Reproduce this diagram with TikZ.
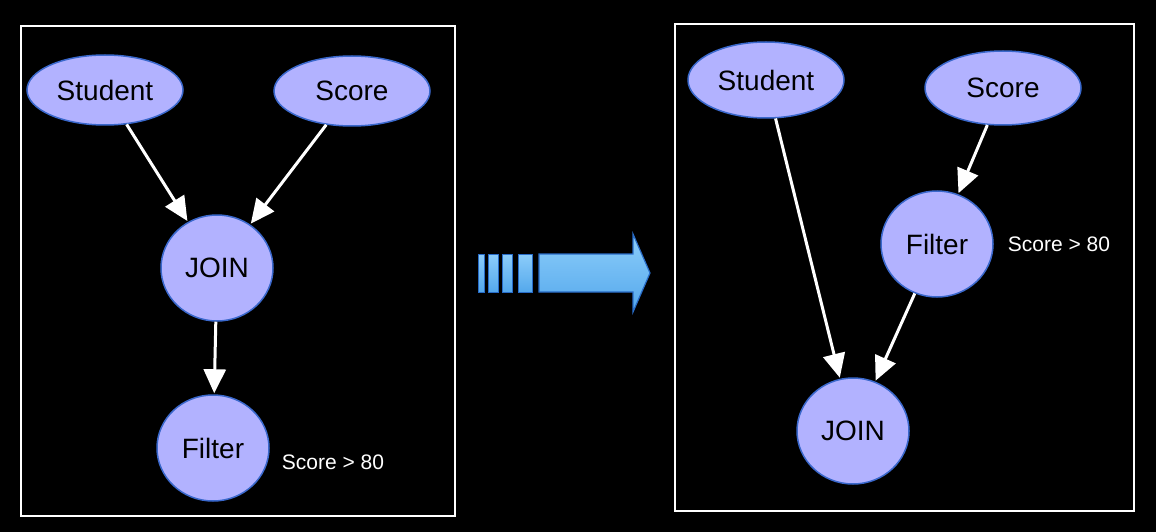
\documentclass[tikz,border=0pt]{standalone}
\usepackage{fontspec}
\setmainfont{Liberation Sans}
\usetikzlibrary{arrows.meta}
\usetikzlibrary{shapes.geometric}

\definecolor{opfill}{RGB}{178,178,255}
\definecolor{opline}{RGB}{58,104,204}
\definecolor{bluetop}{RGB}{140,205,250}
\definecolor{bluebot}{RGB}{84,168,236}
\definecolor{blueline}{RGB}{40,108,200}

\tikzset{
  op/.style={ellipse,draw=opline,fill=opfill,line width=1.5pt,inner sep=0pt,
    font=\fontsize{28}{30}\selectfont,text=black},
  table/.style={op,minimum width=156pt,minimum height=70pt},
  rel/.style={op,minimum width=112pt,minimum height=106pt},
  cond/.style={text=white,font=\fontsize{21}{23}\selectfont},
  flow/.style={white,line width=3pt,-{Triangle[width=22pt,length=24pt]},shorten >=1pt},
  frame/.style={draw=white,line width=1.8pt}
}

\begin{document}
\begin{tikzpicture}[x=1pt,y=-1pt]
  % Boundary
  \fill[black] (0,0) rectangle (1156,532);
  \useasboundingbox (0,0) rectangle (1156,532);
  % Panels
  \draw[frame] (21,26) rectangle (455,516);
  \draw[frame] (675,24) rectangle (1134,511);
  % Before
  \node[table] (student1) at (105,90) {Student};
  \node[table] (score1) at (352,91) {Score};
  \node[rel] (join1) at (217,268) {JOIN};
  \node[rel] (filter1) at (213,448) {Filter};
  \node[cond] (cond1) at (333,462) {Score > 80};
  \draw[flow] (student1) -- (join1);
  \draw[flow] (score1) -- (join1);
  \draw[flow] (join1) -- (filter1);
  % After
  \node[table,minimum height=76pt] (student2) at (766,80) {Student};
  \node[table,minimum height=74pt] (score2) at (1003,88) {Score};
  \node[rel] (filter2) at (937,244) {Filter};
  \node[cond] (cond2) at (1059,244) {Score > 80};
  \node[rel] (join2) at (853,431) {JOIN};
  \draw[flow] (student2) -- (join2);
  \draw[flow] (score2) -- (filter2);
  \draw[flow] (filter2) -- (join2);
  % Rewrite arrow
  \foreach \xa/\xb in {478/484,488/498,502/512,518/532}
    \shade[top color=bluetop,bottom color=bluebot,draw=blueline,line width=0.8pt]
      (\xa,254) rectangle (\xb,292);
  \shade[top color=bluetop,bottom color=bluebot,draw=blueline,line width=1.2pt]
    (539,254) -- (633,254) -- (633,234) -- (650,273) -- (633,312) -- (633,292)
    -- (539,292) -- cycle;
\end{tikzpicture}
\end{document}
